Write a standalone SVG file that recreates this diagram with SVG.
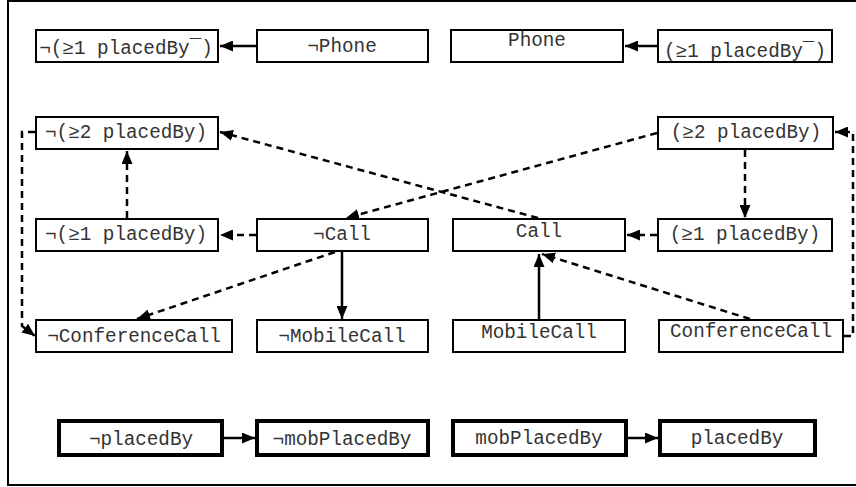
<svg xmlns="http://www.w3.org/2000/svg" width="856" height="487" viewBox="0 0 856 487">
<style>
  .box{fill:#fff;stroke:#000;stroke-width:2}
  .bold{fill:#fff;stroke:#000;stroke-width:4}
  text{font-family:"Liberation Mono","Courier New",monospace;font-size:19.3px;fill:#333;text-anchor:middle}
  .e{fill:none;stroke:#000;stroke-width:2.5;marker-end:url(#ah)}
  .d{fill:none;stroke:#000;stroke-width:2.5;stroke-dasharray:7,5;marker-end:url(#ah)}
</style>
<defs>
  <marker id="ah" markerUnits="userSpaceOnUse" markerWidth="14" markerHeight="11" refX="13" refY="5.5" orient="auto" viewBox="0 0 14 11">
    <path d="M0,0 L13,5.5 L0,11 z" fill="#000"/>
  </marker>
</defs>
<rect x="8" y="1" width="860" height="484" fill="#fff" stroke="#000" stroke-width="2"/>
<g id="connectors">
  <path class="e" d="M256,46 L220,46"/>
  <path class="e" d="M657,46 L625,46"/>
  <path class="e" d="M342,252 L342,319"/>
  <path class="e" d="M539,319 L539,254"/>
  <path class="e" d="M224,438 L255,438"/>
  <path class="e" d="M628,438 L658,438"/>
  <path class="d" d="M127,218 L127,151"/>
  <path class="d" d="M538,218 L220,132"/>
  <path class="d" d="M657,133 L346,218"/>
  <path class="d" d="M256,235 L220,235"/>
  <path class="d" d="M657,235 L627,235"/>
  <path class="d" d="M745,150 L745,218"/>
  <path class="d" d="M335,252 L137,319"/>
  <path class="d" d="M750,319 L542,254"/>
  <path class="d" d="M35,132 H22 V326 L35,336"/>
  <path class="d" d="M844,336 H853 V132 H835"/>
</g>
<g id="n-notge1inv"><rect class="box" x="36" y="30" width="182" height="32"/><text x="126" y="54">¬(≥1 placedBy¯)</text></g>
<g id="n-notphone"><rect class="box" x="257" y="30" width="171" height="32"/><text x="342" y="52">¬Phone</text></g>
<g id="n-phone"><rect class="box" x="451" y="30" width="172" height="32"/><text x="537" y="46">Phone</text></g>
<g id="n-ge1inv"><rect class="box" x="658" y="30" width="174" height="32"/><text x="745" y="57">(≥1 placedBy¯)</text></g>
<g id="n-notge2"><rect class="box" x="36" y="117" width="182" height="32"/><text x="126" y="138">¬(≥2 placedBy)</text></g>
<g id="n-ge2"><rect class="box" x="658" y="117" width="175" height="32"/><text x="746" y="138">(≥2 placedBy)</text></g>
<g id="n-notge1"><rect class="box" x="36" y="219" width="182" height="32"/><text x="126" y="240">¬(≥1 placedBy)</text></g>
<g id="n-notcall"><rect class="box" x="257" y="219" width="171" height="32"/><text x="342" y="240">¬Call</text></g>
<g id="n-call"><rect class="box" x="453" y="219" width="172" height="32"/><text x="539" y="237">Call</text></g>
<g id="n-ge1"><rect class="box" x="658" y="219" width="174" height="32"/><text x="745" y="240">(≥1 placedBy)</text></g>
<g id="n-notconf"><rect class="box" x="36" y="320" width="196" height="32"/><text x="134" y="342">¬ConferenceCall</text></g>
<g id="n-notmobile"><rect class="box" x="257" y="320" width="171" height="32"/><text x="342" y="342">¬MobileCall</text></g>
<g id="n-mobile"><rect class="box" x="453" y="320" width="172" height="32"/><text x="539" y="338">MobileCall</text></g>
<g id="n-conf"><rect class="box" x="659" y="320" width="184" height="32"/><text x="751" y="337">ConferenceCall</text></g>
<g id="n-notplacedby"><rect class="bold" x="59" y="421" width="163" height="34"/><text x="141" y="445">¬placedBy</text></g>
<g id="n-notmobplacedby"><rect class="bold" x="257" y="421" width="171" height="34"/><text x="342" y="445">¬mobPlacedBy</text></g>
<g id="n-mobplacedby"><rect class="bold" x="453" y="421" width="173" height="34"/><text x="539" y="444">mobPlacedBy</text></g>
<g id="n-placedby"><rect class="bold" x="660" y="421" width="155" height="34"/><text x="737" y="444">placedBy</text></g>
</svg>
